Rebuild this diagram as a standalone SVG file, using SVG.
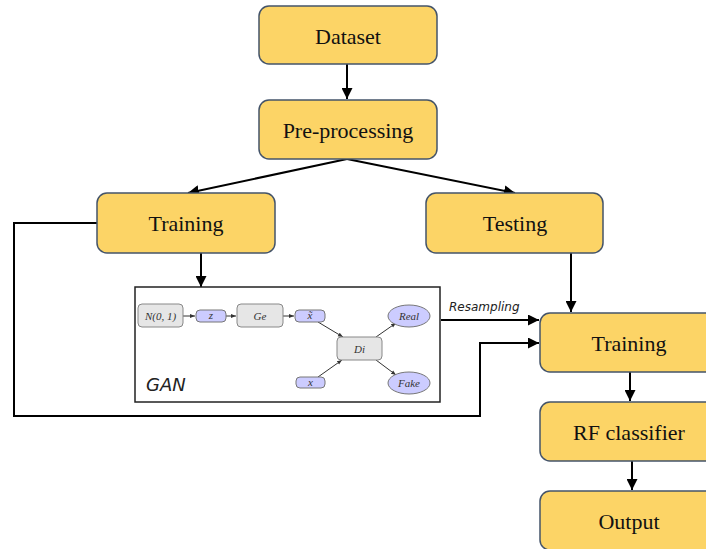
<svg xmlns="http://www.w3.org/2000/svg" width="706" height="549" viewBox="0 0 706 549">
  <style>
    .box { fill: #FCD466; stroke: #44546A; stroke-width: 1.5; }
    .lbl { font-family: "Liberation Serif", "Times New Roman", serif; font-size: 22px; fill: #111; text-anchor: middle; dominant-baseline: central; }
    .wire { fill: none; stroke: #000; stroke-width: 2; }
    .thin { fill: none; stroke: #333; stroke-width: 1; }
    .gbox { fill: #E6E6E6; stroke: #888; stroke-width: 1; }
    .pbox { fill: #CCCCFF; stroke: #777; stroke-width: 1; }
    .math { font-family: "Liberation Serif", "Times New Roman", serif; font-style: italic; font-size: 11px; fill: #333; text-anchor: middle; dominant-baseline: central; }
    .ital { font-family: "DejaVu Sans", "Liberation Sans", sans-serif; font-style: italic; fill: #222; }
  </style>
  <defs>
    <marker id="ah" viewBox="0 0 10 10" refX="10" refY="5" markerWidth="5.5" markerHeight="5.5" orient="auto" markerUnits="strokeWidth">
      <path d="M0,0 L10,5 L0,10 z" fill="#000"/>
    </marker>
    <marker id="sa" viewBox="0 0 10 10" refX="10" refY="5" markerWidth="5" markerHeight="5" orient="auto" markerUnits="strokeWidth">
      <path d="M0,1 L10,5 L0,9 z" fill="#333"/>
    </marker>
  </defs>

  <g id="connectors">
    <line class="wire" x1="347" y1="64" x2="347" y2="99" marker-end="url(#ah)"/>
    <line class="wire" x1="347" y1="159" x2="188" y2="193" marker-end="url(#ah)"/>
    <line class="wire" x1="347" y1="159" x2="515" y2="193" marker-end="url(#ah)"/>
    <line class="wire" x1="201" y1="253" x2="201" y2="287" marker-end="url(#ah)"/>
    <line class="wire" x1="571" y1="253" x2="571" y2="312" marker-end="url(#ah)"/>
    <polyline class="wire" points="97,223 14,223 14,416 480,416 480,343 539,343" marker-end="url(#ah)"/>
    <line class="wire" x1="441" y1="320" x2="539" y2="320" marker-end="url(#ah)"/>
    <line class="wire" x1="630" y1="372" x2="630" y2="401" marker-end="url(#ah)"/>
    <line class="wire" x1="632" y1="461" x2="632" y2="490" marker-end="url(#ah)"/>
    <text class="ital" x="449" y="311" font-size="12">Resampling</text>
  </g>

  <g id="dataset">
    <rect class="box" x="259" y="6" width="178" height="58" rx="10"/>
    <text class="lbl" x="348" y="36">Dataset</text>
  </g>
  <g id="preprocessing">
    <rect class="box" x="259" y="100" width="178" height="59" rx="10"/>
    <text class="lbl" x="348" y="130">Pre-processing</text>
  </g>
  <g id="training-left">
    <rect class="box" x="97" y="193" width="178" height="60" rx="10"/>
    <text class="lbl" x="186" y="223">Training</text>
  </g>
  <g id="testing">
    <rect class="box" x="426" y="193" width="177" height="60" rx="10"/>
    <text class="lbl" x="515" y="223">Testing</text>
  </g>
  <g id="training-right">
    <rect class="box" x="540" y="313" width="178" height="59" rx="10"/>
    <text class="lbl" x="629" y="343">Training</text>
  </g>
  <g id="rf-classifier">
    <rect class="box" x="540" y="402" width="178" height="59" rx="10"/>
    <text class="lbl" x="629" y="432">RF classifier</text>
  </g>
  <g id="output">
    <rect class="box" x="540" y="491" width="178" height="59" rx="10"/>
    <text class="lbl" x="629" y="521">Output</text>
  </g>

  <g id="gan">
    <rect x="135" y="287" width="305" height="115" fill="#fff" stroke="#222" stroke-width="1.5"/>
    <g id="gan-links">
      <line class="thin" x1="183" y1="316" x2="195" y2="316" marker-end="url(#sa)"/>
      <line class="thin" x1="226" y1="316" x2="236" y2="316" marker-end="url(#sa)"/>
      <line class="thin" x1="283" y1="316" x2="294" y2="316" marker-end="url(#sa)"/>
      <line class="thin" x1="318" y1="322" x2="343" y2="337" marker-end="url(#sa)"/>
      <line class="thin" x1="318" y1="377" x2="342" y2="360" marker-end="url(#sa)"/>
      <line class="thin" x1="376" y1="337" x2="396" y2="323" marker-end="url(#sa)"/>
      <line class="thin" x1="376" y1="360" x2="396" y2="375" marker-end="url(#sa)"/>
    </g>
    <g id="gan-noise">
      <rect class="gbox" x="138" y="304" width="45" height="23" rx="4"/>
      <text class="math" x="160.5" y="316" font-style="normal"><tspan font-style="italic">N</tspan>(0, 1)</text>
    </g>
    <g id="gan-z">
      <rect class="pbox" x="196" y="310" width="30" height="12" rx="4"/>
      <text class="math" x="211" y="315">z</text>
    </g>
    <g id="gan-ge">
      <rect class="gbox" x="237" y="304" width="46" height="23" rx="4"/>
      <text class="math" x="260" y="316">Ge</text>
    </g>
    <g id="gan-xtilde">
      <rect class="pbox" x="295" y="310" width="30" height="12" rx="4"/>
      <text class="math" x="310" y="315">x̃</text>
    </g>
    <g id="gan-x">
      <rect class="pbox" x="296" y="377" width="29" height="11" rx="4"/>
      <text class="math" x="310.5" y="382">x</text>
    </g>
    <g id="gan-di">
      <rect class="gbox" x="337" y="337" width="45" height="23" rx="4"/>
      <text class="math" x="359.5" y="349">Di</text>
    </g>
    <g id="gan-real">
      <ellipse cx="409" cy="316" rx="21" ry="11" fill="#CCCCFF" stroke="#777" stroke-width="1"/>
      <text class="math" x="409" y="316">Real</text>
    </g>
    <g id="gan-fake">
      <ellipse cx="409" cy="383" rx="21" ry="11" fill="#CCCCFF" stroke="#777" stroke-width="1"/>
      <text class="math" x="409" y="383">Fake</text>
    </g>
    <text class="ital" x="146" y="391" font-size="18">GAN</text>
  </g>
</svg>
